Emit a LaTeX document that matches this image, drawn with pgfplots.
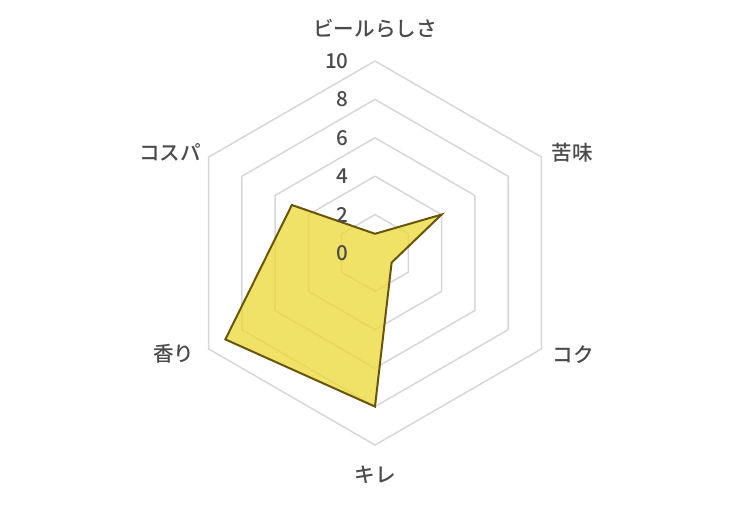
\documentclass[border=0pt]{standalone}
\usepackage{pgfplots}
\pgfplotsset{compat=1.18}
\usepgfplotslibrary{polar}
\usepackage{fontspec}
\setmainfont{Noto Sans CJK JP}[UprightFont=* Medium]
\definecolor{gridc}{RGB}{215,215,215}
\definecolor{txt}{RGB}{75,75,75}
\definecolor{fillc}{RGB}{236,217,60}
\definecolor{edgec}{RGB}{105,85,10}
\begin{document}
\begin{tikzpicture}
\begin{polaraxis}[
  hide axis,
  scale only axis,
  width=192pt, height=192pt,
  ymin=0, ymax=10,
  clip=false,
  font=\fontsize{10.3}{12}\selectfont,
  grid hex/.style={gridc, line width=0.75pt, forget plot},
]
% grid hexagons
\addplot[grid hex] coordinates {(90,2)(30,2)(330,2)(270,2)(210,2)(150,2)(90,2)};
\addplot[grid hex] coordinates {(90,4)(30,4)(330,4)(270,4)(210,4)(150,4)(90,4)};
\addplot[grid hex] coordinates {(90,6)(30,6)(330,6)(270,6)(210,6)(150,6)(90,6)};
\addplot[grid hex] coordinates {(90,8)(30,8)(330,8)(270,8)(210,8)(150,8)(90,8)};
\addplot[grid hex] coordinates {(90,10)(30,10)(330,10)(270,10)(210,10)(150,10)(90,10)};
% data: ビールらしさ, 苦味, コク, キレ, 香り, コスパ
\addplot[draw=edgec, line width=1pt, line join=miter, fill=fillc, fill opacity=0.78]
  coordinates {(90,1)(30,4)(330,1)(270,8)(210,9)(150,5)(90,1)};
\coordinate (c) at (axis cs:0,0);
% tick labels
\node[anchor=east, text=txt, inner sep=0pt, xshift=-13pt] at (axis cs:90,0) {0};
\node[anchor=east, text=txt, inner sep=0pt, xshift=-13pt] at (axis cs:90,2) {2};
\node[anchor=east, text=txt, inner sep=0pt, xshift=-13pt] at (axis cs:90,4) {4};
\node[anchor=east, text=txt, inner sep=0pt, xshift=-13pt] at (axis cs:90,6) {6};
\node[anchor=east, text=txt, inner sep=0pt, xshift=-13pt] at (axis cs:90,8) {8};
\node[anchor=east, text=txt, inner sep=0pt, xshift=-13pt] at (axis cs:90,10) {10};
\end{polaraxis}
\begin{scope}[font=\fontsize{10.3}{12}\selectfont, text=txt]
\node[inner sep=0pt] at ([shift={(0pt,112pt)}]c) {ビールらしさ};
\node[anchor=west, inner sep=0pt] at ([shift={(88pt,50pt)}]c) {苦味};
\node[anchor=west, inner sep=0pt] at ([shift={(88.5pt,-51pt)}]c) {コク};
\node[inner sep=0pt] at ([shift={(0pt,-111pt)}]c) {キレ};
\node[anchor=east, inner sep=0pt] at ([shift={(-90pt,-50.5pt)}]c) {香り};
\node[anchor=east, inner sep=0pt] at ([shift={(-86.7pt,50.5pt)}]c) {コスパ};
\end{scope}
\pgfresetboundingbox
\path[use as bounding box] ([shift={(-187.5pt,-127pt)}]c) rectangle ([shift={(187.5pt,126.5pt)}]c);
\end{tikzpicture}
\end{document}
